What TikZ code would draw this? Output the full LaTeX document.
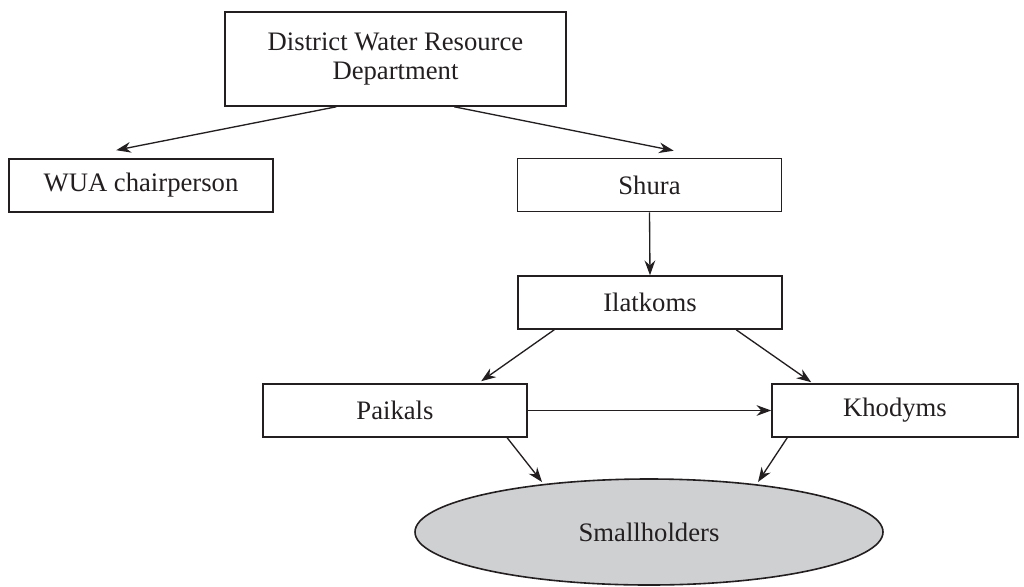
\documentclass[tikz,border=0pt]{standalone}
\usepackage{fontspec}
\setmainfont{Liberation Serif}
\usetikzlibrary{arrows.meta,shapes.geometric,calc}
\definecolor{ink}{HTML}{231F20}
\definecolor{crowd}{HTML}{CFD0D2}
\begin{document}
\begin{tikzpicture}[x=0.75pt,y=-0.75pt,
  font=\fontsize{20}{21.5}\selectfont, text=ink,
  unit/.style={draw=ink, line width=1.2pt, fill=white, rectangle, align=center,
               inner sep=0pt, minimum width=198pt, minimum height=39.75pt},
  link/.style={draw=ink, line width=1pt, -{Stealth[length=11pt,width=8pt]}}]
\useasboundingbox (0,0) rectangle (1024,586);

% organisational units
\node[unit, minimum width=255.75pt, minimum height=70.5pt] (dept) at (395.5,59)
  {District Water Resource\\Department};
\node[unit] (wua)  at (141,185.5) {WUA chairperson};
\node[unit] (shura) at (649.5,185) {Shura};
\node[unit] (ilat) at (650,302.5) {Ilatkoms};
\node[unit] (paik) at (395,410.5) {Paikals};
\node[unit, minimum width=184.5pt] (khod) at (895,410.5) {Khodyms};
\node[ellipse, draw=ink, line width=1.2pt, fill=crowd, inner sep=0pt,
      minimum width=351pt, minimum height=79.5pt] (small) at (649,532) {Smallholders};

% lines of responsibility
\draw[link] ($(dept.south west)+(112,0)$) -- ($(wua.north west)+(108,-8)$);
\draw[link] ($(dept.south west)+(230,0)$) -- ($(shura.north west)+(157,-7)$);
\draw[link] (shura.south) -- (ilat.north);
\draw[link] ($(ilat.south west)+(37,0)$) -- ($(paik.north west)+(219,-2)$);
\draw[link] ($(ilat.south west)+(219,0)$) -- ($(khod.north west)+(40,-1)$);
\draw[link] (paik.east) -- (khod.west);
\draw[link] ($(paik.south west)+(245,0)$) -- ($(small.center)+(-107,-50)$);
\draw[link] ($(khod.south west)+(16,0)$) -- ($(small.center)+(109,-50)$);
\end{tikzpicture}
\end{document}
